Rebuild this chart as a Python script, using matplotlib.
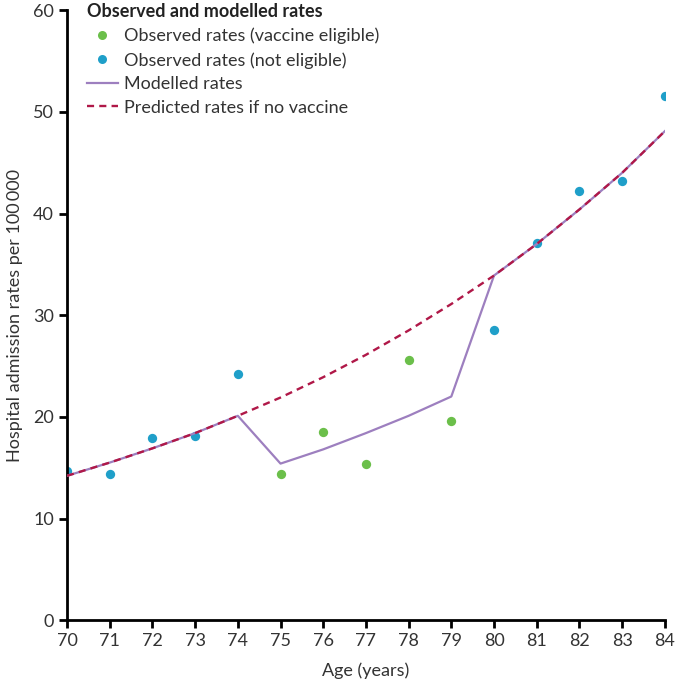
import matplotlib
matplotlib.use('Agg')
import matplotlib.pyplot as plt
from matplotlib.lines import Line2D

plt.rcParams['font.family'] = ['Lato', 'DejaVu Sans']

ages = [70, 71, 72, 73, 74, 75, 76, 77, 78, 79, 80, 81, 82, 83, 84]

# observed rates, split by vaccine eligibility
eligible_ages = [75, 76, 77, 78, 79]
eligible_rates = [14.4, 18.5, 15.4, 25.6, 19.6]
not_eligible_ages = [70, 71, 72, 73, 74, 80, 81, 82, 83, 84]
not_eligible_rates = [14.7, 14.4, 17.9, 18.1, 24.2, 28.5, 37.1, 42.2, 43.2, 51.6]

modelled = [14.2, 15.5, 16.9, 18.4, 20.1, 15.4, 16.8, 18.4, 20.1, 22.0,
            33.9, 37.0, 40.4, 44.0, 48.1]
predicted = [14.2, 15.5, 16.9, 18.4, 20.1, 21.9, 23.9, 26.1, 28.5, 31.1,
             33.9, 37.0, 40.4, 44.0, 48.1]

green = '#6bbf4a'
blue = '#1f9fc9'
purple = '#9d7fbf'
red = '#b01848'
text_col = '#333333'

fig = plt.figure(figsize=(6.77, 6.80), dpi=100)
ax = fig.add_axes([0.099, 0.088, 0.883, 0.897])

ax.scatter(eligible_ages, eligible_rates, s=45, color=green, zorder=2, linewidths=0)
ax.scatter(not_eligible_ages, not_eligible_rates, s=45, color=blue, zorder=2, linewidths=0)
ax.plot(ages, modelled, color=purple, lw=1.6, zorder=3)
ax.plot(ages, predicted, color=red, lw=1.7, ls=(0, (3, 2.2)), zorder=4)

ax.set_xlim(70, 84)
ax.set_ylim(0, 60)
ax.set_xticks(ages)
ax.set_yticks(range(0, 61, 10))
ax.spines['top'].set_visible(False)
ax.spines['right'].set_visible(False)
for s in ('left', 'bottom'):
    ax.spines[s].set_linewidth(2)
ax.tick_params(width=2, length=6, labelsize=13, colors='black', labelcolor=text_col)
ax.set_xlabel('Age (years)', fontsize=13, color=text_col, labelpad=9.5)
ax.set_ylabel('Hospital admission rates per 100\u2009000', fontsize=13, color=text_col, labelpad=7.5)

handles = [
    Line2D([], [], ls='none', marker='o', ms=6.5, color=green, mec='none'),
    Line2D([], [], ls='none', marker='o', ms=6.5, color=blue, mec='none'),
    Line2D([], [], color=purple, lw=1.6),
    Line2D([], [], color=red, lw=1.7, ls=(0, (3, 2.2))),
]
labels = ['Observed rates (vaccine eligible)', 'Observed rates (not eligible)',
          'Modelled rates', 'Predicted rates if no vaccine']
leg = ax.legend(handles, labels, title='Observed and modelled rates', loc='upper left',
                bbox_to_anchor=(0.006, 1.038), frameon=False, fontsize=13,
                handlelength=1.7, handletextpad=0.35, labelspacing=0.42,
                alignment='left', labelcolor=text_col)
leg.get_title().set_fontweight('bold')
leg.get_title().set_fontsize(13)
leg.get_title().set_color('#222222')

fig.savefig('out.png', dpi=100)
